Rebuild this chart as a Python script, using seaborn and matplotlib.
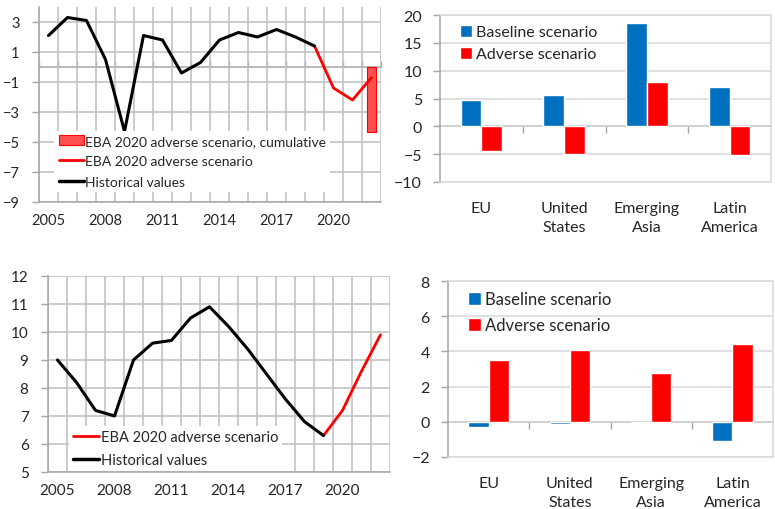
import matplotlib
matplotlib.use("Agg")
import matplotlib.pyplot as plt
import numpy as np
import pandas as pd
import seaborn as sns
from matplotlib.patches import Patch
from matplotlib.lines import Line2D

# ---- data -------------------------------------------------------------
years = list(range(2005, 2023))
label_years = [2005, 2008, 2011, 2014, 2017, 2020]

# real GDP growth (%)
gdp_hist_years = list(range(2005, 2020))
gdp_hist = [2.1, 3.3, 3.1, 0.5, -4.3, 2.1, 1.8, -0.4, 0.3, 1.8, 2.3, 2.0, 2.5, 2.0, 1.4]
adverse_years = [2019, 2020, 2021, 2022]
gdp_adverse = [1.4, -1.4, -2.2, -0.7]
gdp_cumulative_year = 2022
gdp_cumulative = -4.3

# unemployment rate (%)
unemp_hist = [9.0, 8.2, 7.2, 7.0, 9.0, 9.6, 9.7, 10.5, 10.9, 10.2, 9.4, 8.5, 7.6, 6.8, 6.3]
unemp_adverse = [6.3, 7.2, 8.6, 9.9]

# regional deviations
regions = ["EU", "United\nStates", "Emerging\nAsia", "Latin\nAmerica"]
scenarios = ["Baseline scenario", "Adverse scenario"]
top_baseline = [4.8, 5.6, 18.5, 7.1]
top_adverse = [-4.4, -5.0, 8.0, -5.2]
bottom_baseline = [-0.3, -0.15, -0.04, -1.1]
bottom_adverse = [3.5, 4.1, 2.75, 4.4]

# ---- style ------------------------------------------------------------
sns.set_theme(style="white")
plt.rcParams["font.family"] = ["Lato", "DejaVu Sans"]
TEXT = "#262626"
GRID = "#BFBFBF"
AXIS = "#A6A6A6"
BLUE = "#0070C0"
RED = "#FF0000"

fig = plt.figure(figsize=(7.75, 5.1), dpi=100)


def px_axes(left, right, top, bottom):
    W, H = 775, 510
    return fig.add_axes([left / W, 1 - bottom / H, (right - left) / W, (bottom - top) / H])


def zero_axis(ax, ylim, ticks, tick_len):
    """Category axis crossing the value axis at zero, with boundary tick marks."""
    frac = (0 - ylim[0]) / (ylim[1] - ylim[0])
    sec = ax.secondary_xaxis(frac)
    sec.set_xticks(ticks, labels=[])
    sec.tick_params(length=tick_len, direction="out", color=AXIS, width=1)
    for s in sec.spines.values():
        s.set_color(AXIS)
        s.set_linewidth(1.1)


def line_panel(ax, hist, adverse, ylim, yticks, fs, zero_line=False):
    hist_df = pd.DataFrame({"year": gdp_hist_years, "value": hist})
    adv_df = pd.DataFrame({"year": adverse_years, "value": adverse})
    sns.lineplot(data=adv_df, x="year", y="value", color=RED, lw=2, ax=ax, zorder=3)
    sns.lineplot(data=hist_df, x="year", y="value", color="black", lw=2.2, ax=ax, zorder=4)
    ax.set_xlim(years[0] - 0.5, years[-1] + 0.5)
    ax.set_ylim(*ylim)
    boundaries = np.arange(years[0] - 0.5, years[-1] + 1, 1)
    ax.set_xticks(label_years)
    ax.set_xticks(boundaries, minor=True)
    ax.set_yticks(yticks)
    ax.grid(True, which="minor", axis="x", color=GRID, lw=1.1)
    ax.grid(True, which="major", axis="y", color=GRID, lw=1.1)
    ax.set_axisbelow(True)
    for s in ("top", "right"):
        ax.spines[s].set_visible(False)
    for s in ("left", "bottom"):
        ax.spines[s].set_color(AXIS)
        ax.spines[s].set_linewidth(1.1)
    ax.tick_params(axis="x", which="major", length=0, pad=8, labelsize=fs, labelcolor=TEXT)
    ax.tick_params(axis="x", which="minor", length=4, direction="out", color=AXIS, width=1)
    ax.tick_params(axis="y", length=5, direction="out", color=AXIS, width=1, pad=9,
                   labelsize=fs, labelcolor=TEXT, left=True)
    ax.set_xlabel("")
    ax.set_ylabel("")
    if zero_line:
        zero_axis(ax, ylim, boundaries, 4)


def bar_panel(ax, base, adv, ylim, yticks, fs, lfs, tick_len, lspace):
    df = pd.DataFrame({
        "region": regions * 2,
        "scenario": [scenarios[0]] * 4 + [scenarios[1]] * 4,
        "value": base + adv,
    })
    sns.barplot(data=df, x="region", y="value", hue="scenario", hue_order=scenarios,
                palette=[BLUE, RED], width=0.5, gap=0, saturation=1, ax=ax, zorder=3)
    ax.set_xlim(-0.5, 3.5)
    ax.set_ylim(*ylim)
    ax.set_yticks(yticks)
    ax.grid(True, axis="y", color="#D9D9D9", lw=1.1)
    ax.set_axisbelow(True)
    for s in ax.spines.values():
        s.set_color("#D9D9D9")
        s.set_linewidth(1.1)
    ax.spines["left"].set_color(AXIS)
    ax.tick_params(axis="x", length=0, pad=14, labelsize=fs, labelcolor=TEXT)
    ax.tick_params(axis="y", length=5, direction="out", color=AXIS, width=1, pad=8,
                   labelsize=fs, labelcolor=TEXT, left=True)
    for lab in ax.get_xticklabels():
        lab.set_linespacing(1.45)
        lab.set_verticalalignment("top")
    ax.set_xlabel("")
    ax.set_ylabel("")
    zero_axis(ax, ylim, [0.5, 1.5, 2.5], tick_len)
    handles = [Patch(facecolor=BLUE), Patch(facecolor=RED)]
    ax.legend(handles, scenarios, loc="upper left", bbox_to_anchor=(0.04, 0.98),
              frameon=False, fontsize=lfs, handlelength=0.8, handleheight=0.8,
              handletextpad=0.25, labelspacing=lspace, borderaxespad=0,
              labelcolor=TEXT)


# ---- top left: GDP growth --------------------------------------------
ax1 = px_axes(39, 381, 8, 203)
line_panel(ax1, gdp_hist, gdp_adverse, (-9, 4), np.arange(-9, 4, 2), 10.5, zero_line=True)
ax1.bar(gdp_cumulative_year, gdp_cumulative, width=0.5, color="#FF5050",
        edgecolor=RED, lw=0.8, zorder=2)
h1 = [Patch(facecolor="#FF5050", edgecolor=RED, lw=0.8),
      Line2D([], [], color=RED, lw=2), Line2D([], [], color="black", lw=2.5)]
leg1 = ax1.legend(h1, ["EBA 2020 adverse scenario, cumulative", "EBA 2020 adverse scenario",
                       "Historical values"],
                  loc="upper left", bbox_to_anchor=(0.045, 0.365), frameon=True,
                  facecolor="white", edgecolor="none", framealpha=1, fancybox=False,
                  fontsize=10, handlelength=1.8, handleheight=0.7, handletextpad=0.1,
                  labelspacing=0.6, borderaxespad=0, borderpad=0.3, labelcolor=TEXT)
leg1.set_zorder(5)

# ---- bottom left: unemployment ---------------------------------------
ax3 = px_axes(48, 390, 277, 473)
line_panel(ax3, unemp_hist, unemp_adverse, (5, 12), np.arange(5, 13, 1), 11)
h3 = [Line2D([], [], color=RED, lw=2), Line2D([], [], color="black", lw=2.5)]
leg3 = ax3.legend(h3, ["EBA 2020 adverse scenario", "Historical values"],
                  loc="upper left", bbox_to_anchor=(0.06, 0.235), frameon=True,
                  facecolor="white", edgecolor="none", framealpha=1, fancybox=False,
                  fontsize=10.5, handlelength=1.8, handletextpad=0.1,
                  labelspacing=0.6, borderaxespad=0, borderpad=0.3, labelcolor=TEXT)
leg3.set_zorder(5)

# ---- top right -------------------------------------------------------
ax2 = px_axes(440, 771, 16, 183)
bar_panel(ax2, top_baseline, top_adverse, (-10, 20), np.arange(-10, 21, 5), 11.5, 11.5, 5, 0.45)

# ---- bottom right ----------------------------------------------------
ax4 = px_axes(448, 773, 282, 458)
bar_panel(ax4, bottom_baseline, bottom_adverse, (-2, 8), np.arange(-2, 9, 2), 11.5, 12, 5, 0.6)

fig.savefig("out.png", dpi=100)
